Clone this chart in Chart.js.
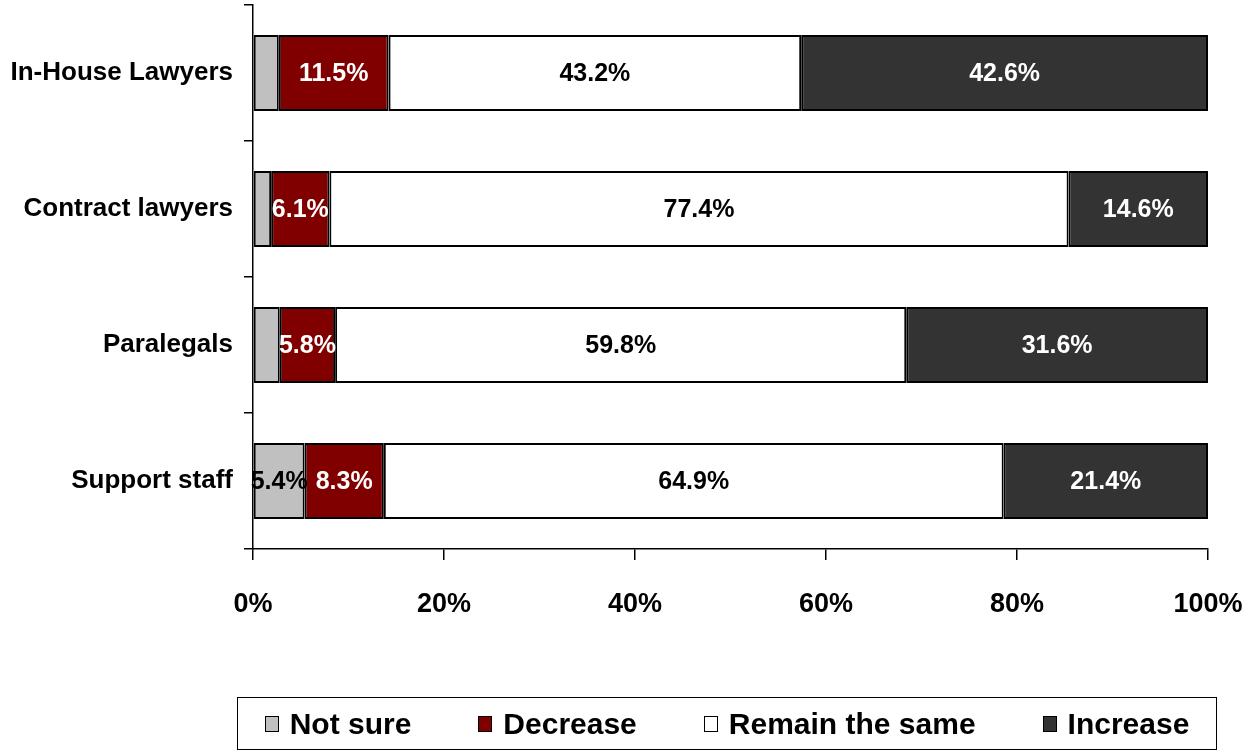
<!DOCTYPE html>
<html>
<head>
<meta charset="utf-8">
<script src="https://cdn.jsdelivr.net/npm/chart.js@4.4.1/dist/chart.umd.min.js"></script>
<style>
    html, body { margin: 0; padding: 0; background: #fff; }
    #wrap { position: relative; width: 1255px; height: 752px; }
    #legend {
        position: absolute; left: 237px; top: 697px; width: 980px; height: 53px;
        border: 1.5px solid #000; box-sizing: border-box;
        display: flex; align-items: center; justify-content: center; gap: 67px;
        font: bold 30px "Liberation Sans", Arial, sans-serif; color: #000;
    }
    #legend .item { display: flex; align-items: center; }
    #legend .box { width: 14px; height: 16px; border: 1.5px solid #000; box-sizing: border-box; margin-right: 11px; }
</style>
</head>
<body>
<div id="wrap">
    <canvas id="chart"></canvas>
    <div id="legend"></div>
</div>
<script>
// --- DATA ---
const categories = ['In-House Lawyers', 'Contract lawyers', 'Paralegals', 'Support staff'];
const seriesNames = ['Not sure', 'Decrease', 'Remain the same', 'Increase'];
const notSure = [2.7, 1.9, 2.8, 5.4];
const decrease = [11.5, 6.1, 5.8, 8.3];
const remainSame = [43.2, 77.4, 59.8, 64.9];
const increase = [42.6, 14.6, 31.6, 21.4];
const xTicks = [0, 20, 40, 60, 80, 100];

// --- STYLE ---
const fills = ['#C0C0C0', '#800000', '#FFFFFF', '#333333'];
const labelColors = ['#000000', '#FFFFFF', '#000000', '#FFFFFF'];
const FONT = "'Liberation Sans', Arial, sans-serif";

Chart.defaults.font.family = FONT;
Chart.defaults.color = '#000';

// draws the % values in the middle of each segment
const segmentLabels = {
    id: 'segmentLabels',
    afterDatasetsDraw(chart) {
        const ctx = chart.ctx;
        ctx.save();
        ctx.font = 'bold 25px ' + FONT;
        ctx.textAlign = 'center';
        ctx.textBaseline = 'middle';
        chart.data.datasets.forEach((ds, i) => {
            const meta = chart.getDatasetMeta(i);
            meta.data.forEach((bar, j) => {
                const v = ds.data[j];
                if (v < 5) return; // too small to label
                ctx.fillStyle = labelColors[i];
                ctx.fillText(v.toFixed(1) + '%', (bar.x + bar.base) / 2, bar.y + 1);
            });
        });
        ctx.restore();
    }
};

// keep the plot area where the layout padding says, not where the tick labels push it
function noScalePadding(scale) {
    scale.paddingTop = 0;
    scale.paddingBottom = 0;
    scale.paddingLeft = 0;
    scale.paddingRight = 0;
}

const seriesValues = [notSure, decrease, remainSame, increase];

new Chart(document.getElementById('chart'), {
    type: 'bar',
    data: {
        labels: categories,
        datasets: seriesNames.map((name, i) => ({
            label: name,
            data: seriesValues[i],
            backgroundColor: fills[i],
            borderColor: '#000',
            borderWidth: 2,
            borderSkipped: false,
            categoryPercentage: 1,
            barPercentage: 0.56
        }))
    },
    options: {
        indexAxis: 'y',
        responsive: true,
        maintainAspectRatio: false,
        animation: false,
        layout: { padding: { top: 5, right: 47, left: 0, bottom: 0 } },
        plugins: { legend: { display: false }, tooltip: { enabled: false } },
        scales: {
            x: {
                stacked: true,
                min: 0,
                max: 100,
                afterBuildTicks: (scale) => { scale.ticks = xTicks.map(v => ({ value: v })); },
                afterFit: (scale) => { scale.height = 203; noScalePadding(scale); },
                border: { display: true, color: '#000', width: 1.5 },
                grid: { drawOnChartArea: false, drawTicks: true, tickLength: 11, color: '#000', lineWidth: 1.5 },
                ticks: {
                    padding: 28,
                    font: { size: 27, weight: 'bold' },
                    color: '#000',
                    callback: (v) => v + '%'
                }
            },
            y: {
                stacked: true,
                afterFit: (scale) => { scale.width = 253; noScalePadding(scale); },
                border: { display: true, color: '#000', width: 1.5 },
                grid: { offset: true, drawOnChartArea: false, drawTicks: true, tickLength: 9, color: '#000', lineWidth: 1.5 },
                ticks: {
                    padding: 11,
                    font: { size: 26, weight: 'bold' },
                    color: '#000'
                }
            }
        }
    },
    plugins: [segmentLabels]
});

// --- LEGEND ---
const legendEl = document.getElementById('legend');
seriesNames.forEach((name, i) => {
    const item = document.createElement('div');
    item.className = 'item';
    item.innerHTML = `<span class="box" style="background:${fills[i]}"></span><span>${name}</span>`;
    legendEl.appendChild(item);
});
</script>
</body>
</html>
